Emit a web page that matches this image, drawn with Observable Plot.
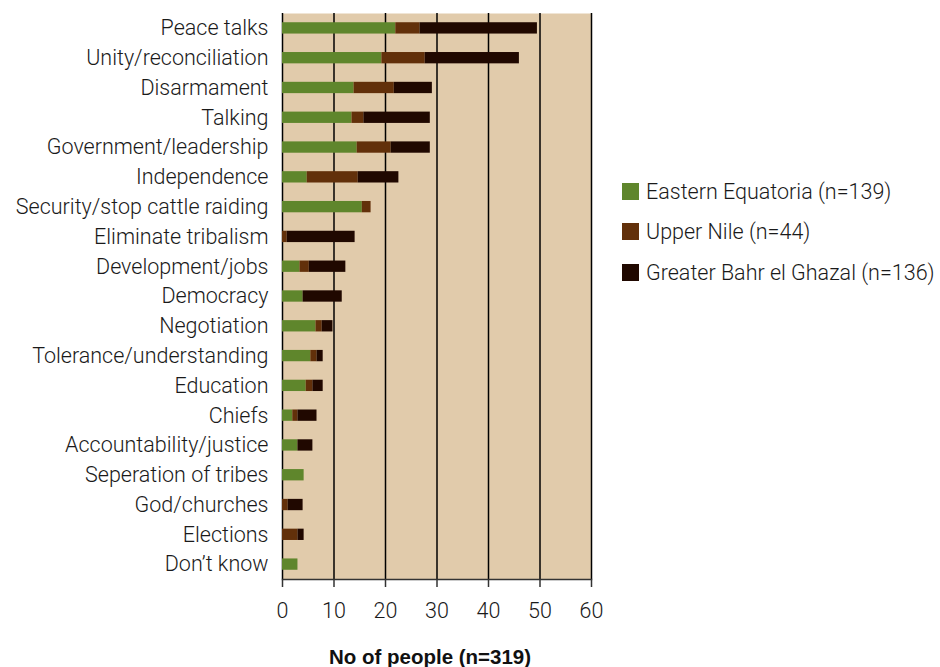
<!DOCTYPE html>
<html>
<head>
<meta charset="utf-8">
<script src="https://cdn.jsdelivr.net/npm/d3@7"></script>
<script src="https://cdn.jsdelivr.net/npm/@observablehq/plot@0.6"></script>
<style>
  html, body { margin: 0; padding: 0; background: #fff; }
  #wrap { position: relative; width: 940px; height: 667px; font-family: Roboto, "Liberation Sans", Arial, sans-serif; font-weight: 300; }
  #legend { position: absolute; left: 622px; top: 171px; font-size: 21.5px; color: #1a1a1a; }
  .item { position: absolute; left: 0; display: flex; align-items: center; height: 40px; white-space: nowrap; }
  .sw { width: 17px; height: 17px; margin-right: 7px; flex: none; }
</style>
</head>
<body>
<div id="wrap"><div id="chart"></div><div id="legend"></div></div>
<script>
const categories = ["Peace talks","Unity/reconciliation","Disarmament","Talking","Government/leadership","Independence","Security/stop cattle raiding","Eliminate tribalism","Development/jobs","Democracy","Negotiation","Tolerance/understanding","Education","Chiefs","Accountability/justice","Seperation of tribes","God/churches","Elections","Don\u2019t know"];
const easternEquatoria = [22, 19.3, 13.9, 13.5, 14.5, 4.8, 15.5, 0, 3.4, 4, 6.5, 5.5, 4.6, 2, 3, 4.2, 0, 0, 3];
const upperNile        = [4.7, 8.4, 7.8, 2.3, 6.6, 9.9, 1.7, 0.9, 1.8, 0, 1.2, 1.2, 1.3, 1, 0, 0, 1.1, 3, 0];
const greaterBahr      = [22.8, 18.3, 7.4, 12.9, 7.6, 7.9, 0, 13.2, 7.1, 7.6, 2.1, 1.2, 2, 3.7, 2.9, 0, 2.9, 1.2, 0];
const regions = ["Eastern Equatoria (n=139)", "Upper Nile (n=44)", "Greater Bahr el Ghazal (n=136)"];
const colors = ["#5f862c", "#62300a", "#200800"];
const xTicks = [0, 10, 20, 30, 40, 50, 60];
const xTitle = "No of people (n=319)";

const series = [easternEquatoria, upperNile, greaterBahr];
const rows = [];
regions.forEach((r, i) => categories.forEach((c, j) => rows.push({category: c, region: r, value: series[i][j]})));

const chart = Plot.plot({
  width: 940,
  height: 667,
  marginLeft: 282,
  marginRight: 349,
  marginTop: 13,
  marginBottom: 88,
  style: {fontFamily: "Roboto, Liberation Sans, Arial, sans-serif", fontWeight: 300, fontSize: "21.5px", color: "#1a1a1a", background: "transparent"},
  x: {domain: [0, 60], ticks: xTicks},
  y: {domain: categories, paddingInner: 0.62, paddingOuter: 0.31, round: false},
  color: {domain: regions, range: colors},
  marks: [
    Plot.frame({fill: "#e1cbab", stroke: null}),
    Plot.gridX(xTicks, {stroke: "#000", strokeOpacity: 1, strokeWidth: 1.5}),
    Plot.barX(rows, {x: "value", y: "category", fill: "region", order: regions}),
    Plot.frame({anchor: "bottom", stroke: "#333", strokeWidth: 1.5}),
    Plot.axisX({ticks: xTicks, tickSize: 8, tickPadding: 15, label: null, stroke: "#333", strokeWidth: 1.5}),
    Plot.axisY({tickSize: 0, tickPadding: 14, label: null}),
    Plot.text([xTitle], {frameAnchor: "bottom", dy: 84, dx: -7, fontWeight: "bold", fontSize: 20.5, fill: "#111", fontFamily: "Liberation Sans, Arial, sans-serif"})
  ]
});
document.getElementById("chart").appendChild(chart);

const lg = document.getElementById("legend");
regions.forEach((r, i) => {
  const d = document.createElement("div");
  d.className = "item";
  d.style.top = (i * 40.5) + "px";
  d.innerHTML = `<span class="sw" style="background:${colors[i]}"></span><span>${r}</span>`;
  lg.appendChild(d);
});
</script>
</body>
</html>
